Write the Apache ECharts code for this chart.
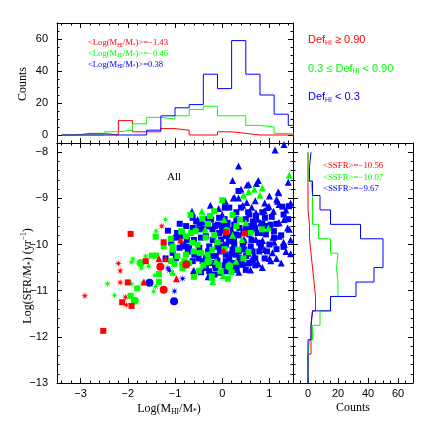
<!DOCTYPE html>
<html>
<head>
<meta charset="utf-8">
<script src="https://cdn.jsdelivr.net/npm/echarts@6/dist/echarts.min.js"></script>
<style>
  html, body { margin: 0; padding: 0; background: #fff; }
  #chart { width: 436px; height: 436px; }
</style>
</head>
<body>
<div id="chart"></div>
<script>
// tick labels
var xTickValues = [-3, -2, -1, 0, 1];
var yTickValues = [-13, -12, -11, -10, -9, -8];
var countTickValues = [0, 20, 40, 60];

// legend texts
var defLegend = ['{t|Def}{s|HI}{t| \u2265 0.90}', '{t|0.3 \u2264 Def}{s|HI}{t| < 0.90}', '{t|Def}{s|HI}{t| < 0.3}'];
var mhiMeans = ['\u22121.43', '\u22120.46', '0.38'];
var ssfrMeans = ['\u221210.56', '\u221210.07', '\u22129.67'];

// top histogram: log(MHI/M*) bins (lower edges), width 0.3
var hiBinLo = [-3.4, -3.1, -2.8, -2.5, -2.2, -1.9, -1.6, -1.3, -1.0, -0.7, -0.4, -0.1, 0.2, 0.5, 0.8, 1.1, 1.4];
var hiBinWidth = 0.3;
var hiRed   = [0, 1, 1, 0, 9, 2, 2, 4, 3, 0, 0, 2, 1, 0, 0, 0, 0];
var hiGreen = [0, 0, 0, 2, 3, 7, 11, 10, 12, 16, 18, 12, 12, 6, 5, 1, 0];
var hiBlue  = [0, 0, 0, 0, 0, 0, 3, 12, 17, 19, 38, 29, 59, 38, 25, 13, 6];

// right histogram: log(SSFR) bins (lower edges)
var ssfrBinLo = [-13, -12.6875, -12.375, -12.0625, -11.75, -11.4375, -11.125, -10.8125, -10.5, -10.1875, -9.875, -9.5625, -9.25, -8.9375, -8.625, -8.3125];
var ssfrBinWidth = 0.3125;
var ssfrRed   = [0, 0, 2, 2, 3, 5, 4, 3, 2, 1, 1, 0, 0, 0, 0, 0];
var ssfrGreen = [0, 0, 1, 3, 8, 15, 20, 19, 20, 15, 7, 3, 3, 2, 0, 0];
var ssfrBlue  = [0, 0, 0, 2, 3, 15, 32, 44, 50, 50, 35, 15, 8, 3, 1, 2];

// scatter: [log(MHI/M*), log(SFR/M*)]
var redSquare = [[-1.94, -9.77], [-2.52, -11.87], [-1.62, -10.36], [-1.24, -9.95], [-2.0, -10.82], [-2.12, -11.25], [-1.92, -11.33], [0.08, -9.73], [0.48, -9.76]];
var redStar = [[-1.28, -9.60], [-2.20, -10.41], [-2.16, -10.57], [-2.16, -10.82], [-2.91, -11.11], [-2.05, -11.14], [-2.03, -11.31]];
var redCircle = [[-1.31, -10.48], [-1.24, -10.98], [-0.76, -10.43]];
var redTriangle = [[-1.66, -10.81], [-1.34, -10.31], [-1.20, -10.31], [-0.88, -9.90], [-0.97, -10.74], [0.03, -10.13]];

var greenSquare = [[0.0, -9.04], [-0.17, -9.28], [-0.26, -9.38], [-0.67, -9.36], [-0.42, -9.44], [0.22, -9.36], [0.38, -9.46], [0.84, -9.67],
  [-0.17, -9.80], [-0.77, -9.82], [-0.66, -9.75], [-0.56, -9.71], [-0.87, -9.71], [-0.63, -9.96], [-0.52, -10.0],
  [-0.45, -10.18], [-0.31, -10.22], [-0.21, -10.11], [-0.77, -10.22], [-0.80, -10.36], [-0.84, -10.51], [-0.49, -10.57],
  [-0.08, -10.44], [0.15, -10.47], [-0.03, -10.58], [-0.22, -10.69], [0.12, -10.74], [0.56, -10.16], [0.34, -10.11],
  [-1.41, -9.83], [-1.09, -9.88], [-1.24, -10.04], [-1.49, -10.24], [-1.40, -10.24], [-1.34, -10.64], [-1.34, -10.81],
  [-1.80, -10.95], [-1.94, -11.11], [-1.01, -10.42], [-1.05, -10.04], [-0.85, -9.72], [-1.08, -10.36], [-1.05, -10.11],
  [-0.1, -9.95], [0.05, -10.1], [-0.6, -10.15], [0.3, -9.6], [-0.3, -9.55], [0.6, -9.75], [-0.7, -10.4], [0.1, -9.7],
  [-0.4, -10.45], [-0.95, -10.25], [-0.35, -9.85], [0.45, -10.3], [-0.6, -10.7], [0.2, -10.6]];
var greenTriangle = [[1.42, -8.50], [0.56, -8.85], [0.68, -8.80], [0.85, -8.77], [0.45, -8.93], [0.80, -8.93], [-0.43, -9.28], [0.04, -9.46],
  [0.50, -9.53], [0.98, -9.64], [-0.36, -9.67], [0.22, -9.80], [0.29, -10.36], [0.42, -9.89], [-0.13, -10.36], [-0.20, -10.80],
  [-0.22, -10.71], [0.02, -10.67], [-1.05, -10.60]];
var greenCircle = [[-1.73, -10.40], [-1.85, -11.22], [0.15, -10.47], [-0.29, -10.36], [-0.83, -10.43]];
var greenStar = [[-1.40, -9.71], [-1.89, -10.31], [-1.92, -10.38], [-1.56, -10.47], [-1.62, -10.25], [-1.71, -10.51], [-1.43, -10.67],
  [-2.43, -10.85], [-1.92, -10.85], [-1.45, -11.02], [-2.28, -11.10], [-1.68, -10.83], [-1.41, -10.91], [-1.20, -9.46]];

var blueTriangle = [[1.31, -7.83], [1.12, -7.95], [0.345, -8.30], [0.22, -8.61], [0.765, -8.61], [0.725, -8.68], [0.525, -8.71], [1.185, -8.86],
  [0.235, -8.99], [0.345, -8.99], [1.155, -9.02], [0.065, -9.06], [1.205, -9.13], [0.435, -9.15], [-0.075, -9.22], [0.625, -9.19],
  [0.955, -9.20], [1.085, -9.28], [0.715, -9.31], [-0.52, -9.46], [0.995, -9.57], [1.205, -9.53], [0.815, -9.53], [-0.485, -9.53],
  [-0.305, -9.60], [0.145, -9.64], [1.385, -9.64], [0.605, -9.67], [1.075, -9.84], [0.855, -9.91], [1.205, -9.82], [1.315, -10.0],
  [0.715, -9.89], [0.465, -9.89], [0.905, -10.11], [0.675, -10.22], [1.065, -10.18], [0.765, -10.42], [0.535, -10.40], [0.435, -10.36],
  [-0.61, -10.57], [0.29, -10.41], [0.75, -10.41], [1.03, -10.35], [-0.60, -10.56], [-0.64, -9.28], [-0.42, -9.5], [-0.85, -9.75],
  [1.2, -8.88], [1.17, -9.06], [0.99, -9.17], [0.89, -9.27], [1.31, -9.46], [1.42, -9.67], [1.2, -9.53], [0.56, -8.70], [0.26, -8.98],
  [0.52, -9.09], [1.1, -9.95], [1.35, -10.15], [1.45, -9.9], [1.0, -10.3], [0.6, -10.55], [1.25, -10.4], [0.35, -10.6], [-0.05, -10.6],
  [-0.3, -10.7], [0.1, -9.55], [1.45, -9.1], [1.4, -8.65], [0.0, -9.35], [-0.25, -9.15], [0.75, -9.45],
  [1.0, -8.95], [0.7, -9.05], [1.35, -9.25], [0.4, -8.8], [0.9, -9.1], [1.3, -9.95], [1.15, -10.3], [0.85, -10.5], [1.45, -10.2], [0.2, -10.45]];
var blueSquare = [[0.345, -8.84], [0.055, -9.20], [0.575, -9.35], [0.715, -9.38], [0.905, -9.42], [1.275, -9.18], [1.415, -9.17], [-0.065, -9.42],
  [-0.235, -9.46], [-0.625, -9.42], [-0.095, -9.57], [0.005, -9.60], [0.115, -9.53], [0.255, -9.57], [0.365, -9.64], [0.505, -9.64],
  [0.675, -9.60], [0.885, -9.60], [1.025, -9.57], [-0.765, -9.60], [-0.625, -9.64], [-0.485, -9.67], [-0.205, -9.67], [-0.87, -9.82],
  [-0.345, -9.82], [-0.025, -9.89], [0.145, -9.93], [0.255, -10.0], [0.435, -10.0], [0.605, -10.04], [0.785, -9.96], [-0.065, -9.75],
  [0.075, -9.82], [0.29, -9.78], [0.575, -9.78], [0.75, -9.75], [0.925, -9.78], [1.095, -9.71], [-0.80, -10.04], [-0.73, -10.15],
  [-0.59, -10.22], [-0.345, -10.29], [-0.135, -10.25], [0.075, -10.22], [0.29, -10.22], [0.505, -10.25], [0.645, -10.15], [-0.485, -10.07],
  [-0.275, -10.04], [0.005, -10.04], [0.22, -10.11], [0.465, -10.11], [0.785, -10.15], [-0.415, -10.36], [-0.235, -10.40], [0.075, -10.36],
  [0.22, -10.40], [0.435, -10.44], [0.575, -10.40], [0.365, -10.29], [0.645, -10.36], [-0.625, -10.36], [-0.345, -10.51], [-0.135, -10.51],
  [-0.165, -10.65], [-0.275, -10.58], [0.075, -10.58], [-0.955, -9.75], [-1.08, -9.96], [-0.98, -9.85], [-1.05, -10.18], [-0.905, -10.07],
  [-0.835, -10.0], [-0.98, -10.29], [-0.45, -9.85], [-0.2, -9.9], [0.0, -9.7], [0.18, -9.68], [0.35, -9.8], [0.45, -9.72], [0.62, -9.9],
  [0.7, -9.65], [0.95, -9.6], [1.15, -9.55], [1.25, -9.8], [1.0, -10.0], [0.82, -10.05], [0.55, -10.2], [0.35, -10.15], [0.15, -10.3],
  [-0.05, -10.15], [-0.25, -10.25], [-0.5, -10.3], [-0.7, -10.05], [-0.55, -9.5], [-0.3, -9.45], [0.3, -9.45], [0.5, -9.45], [0.85, -9.3],
  [1.05, -9.4], [0.4, -9.2], [0.15, -9.2], [-0.15, -9.6], [0.25, -10.55], [0.5, -10.55], [-0.45, -10.6], [0.7, -10.45], [0.9, -10.3],
  [1.15, -10.1], [1.3, -9.35], [-0.9, -9.55], [-0.75, -9.9], [-1.15, -9.7], [-1.2, -10.3], [0.05, -10.45], [-0.1, -10.35], [0.6, -9.6],
  [0.25, -9.9], [0.08, -10.0], [0.3, -9.3], [0.65, -9.5], [0.8, -9.75], [1.1, -9.85], [0.45, -9.95], [-0.1, -10.05], [0.2, -10.2],
  [0.4, -10.42], [-0.3, -10.15], [-0.6, -9.9], [0.95, -10.15], [1.3, -10.05], [0.55, -9.3], [0.05, -9.45], [-0.4, -9.65], [0.7, -10.3],
  [0.15, -9.8], [-0.15, -10.45], [0.85, -9.55], [1.4, -9.45]];
var blueCircle = [[-1.54, -10.83], [-1.02, -11.23], [0.29, -10.51]];
var blueStar = [[-1.15, -10.51], [-1.12, -10.56], [-1.01, -11.01], [-0.84, -10.74]];

var RED = '#ff0000', GREEN = '#00ff00', BLUE = '#0000ff';
var SERIF = 'Liberation Serif';
var SANS = 'Liberation Sans';
var STAR = 'path://M100 50 L63.86 55.74 L85.36 85.36 L55.74 63.86 L50 100 L44.26 63.86 L14.64 85.36 L36.14 55.74 L0 50 L36.14 44.26 L14.64 14.64 L44.26 36.14 L50 0 L55.74 36.14 L85.36 14.64 L63.86 44.26 Z';

function steps(a, b, step) {
    var out = [];
    var n = Math.round((b - a) / step);
    for (var i = 0; i <= n; i++) out.push(Math.round((a + i * step) * 1000) / 1000);
    return out;
}
function minus(v) {
    return String(v).replace('-', '\u2212');
}

var xAxes = [], yAxes = [];
function axis(grid, min, max, side, ticks, len, showLabel, showLine) {
    return {
        type: 'value', gridIndex: grid, min: min, max: max, position: side,
        axisLine: { show: showLine, onZero: false, lineStyle: { color: '#000', width: 1 } },
        axisTick: { show: true, inside: true, length: len, customValues: ticks, lineStyle: { color: '#000', width: 1 } },
        axisLabel: {
            show: showLabel, customValues: ticks, margin: side === 'left' ? 9 : 5,
            color: '#000', fontFamily: SANS, fontSize: 11, formatter: minus
        },
        splitLine: { show: false }
    };
}
function addAxes(list, grid, min, max, major, minor, sides, labelSide) {
    var first = list.length;
    sides.forEach(function (side) {
        list.push(axis(grid, min, max, side, major, 5, side === labelSide, true));
        list.push(axis(grid, min, max, side, minor, 2.5, false, false));
    });
    return first;
}

// grid 0: top histogram, grid 1: scatter, grid 2: right histogram
var topX = addAxes(xAxes, 0, -3.5, 1.5, xTickValues, steps(-3.4, 1.4, 0.2), ['bottom', 'top'], null);
var topY = addAxes(yAxes, 0, -5, 70, countTickValues, steps(-5, 70, 5), ['left', 'right'], 'left');
var mainX = addAxes(xAxes, 1, -3.5, 1.5, xTickValues, steps(-3.4, 1.4, 0.2), ['bottom', 'top'], 'bottom');
var mainY = addAxes(yAxes, 1, -13, -7.8, yTickValues, steps(-13, -7.8, 0.2), ['left', 'right'], 'left');
var sideX = addAxes(xAxes, 2, -10, 70, countTickValues, steps(-10, 70, 5), ['bottom', 'top'], 'bottom');
var sideY = addAxes(yAxes, 2, -13, -7.8, yTickValues, steps(-13, -7.8, 0.2), ['left', 'right'], null);

function histPoints(lo, w, counts, horizontal) {
    var pts = [];
    for (var i = 0; i < lo.length; i++) {
        if (horizontal) {
            pts.push([counts[i], lo[i]]);
            pts.push([counts[i], lo[i] + w]);
        } else {
            pts.push([lo[i], counts[i]]);
            pts.push([lo[i] + w, counts[i]]);
        }
    }
    return pts;
}
function hist(data, color, xi, yi) {
    return {
        type: 'line', xAxisIndex: xi, yAxisIndex: yi, data: data,
        symbol: 'none', showSymbol: false, clip: true, silent: true,
        lineStyle: { color: color, width: 1 }, z: 2
    };
}
function scatter(data, color, symbol, size) {
    return {
        type: 'scatter', xAxisIndex: mainX, yAxisIndex: mainY, data: data,
        symbol: symbol, symbolSize: size, silent: true,
        itemStyle: { color: color, opacity: 1 }, z: 3
    };
}

function rich(size, color, family) {
    return {
        t: { fontSize: size, fontFamily: family, fill: color },
        s: { fontSize: size * 0.62, fontFamily: family, fill: color, padding: [size * 0.55, 0, 0, 0] },
        u: { fontSize: size * 0.62, fontFamily: family, fill: color, padding: [0, 0, size * 0.6, 0] }
    };
}
function text(x, y, str, size, color, family, align, rotation) {
    return {
        type: 'text', x: x, y: y, rotation: rotation || 0, silent: true,
        style: {
            text: str, fill: color, fontSize: size, fontFamily: family,
            align: align, verticalAlign: 'middle', rich: rich(size, color, family)
        }
    };
}

var colors = [RED, GREEN, BLUE];
var graphics = [
    text(167, 177, '{t|All}', 11, '#000', SERIF, 'left'),
    text(169, 409, '{t|Log(M}{s|HI}{t|/M}{s|*}{t|)}', 12, '#000', SERIF, 'center'),
    text(353, 408, '{t|Counts}', 12, '#000', SERIF, 'center'),
    text(28, 276, '{t|Log(SFR/M}{s|*}{t|) (yr}{u|\u22121}{t|)}', 12, '#000', SERIF, 'center', Math.PI / 2),
    text(23, 84, '{t|Counts}', 12, '#000', SERIF, 'center', Math.PI / 2)
];
for (var i = 0; i < 3; i++) {
    graphics.push(text(88, 43 + i * 10.7, '{t|<Log(M}{s|HI}{t|/M}{s|*}{t|)>=' + mhiMeans[i] + '}', 8.6, colors[i], SERIF, 'left'));
    graphics.push(text(308, 40 + i * 28.5, defLegend[i], 11, colors[i], SANS, 'left'));
    graphics.push(text(323, 166 + i * 11.5, '{t|<SSFR>=' + ssfrMeans[i] + '}', 8.8, colors[i], SERIF, 'left'));
}

var chart = echarts.init(document.getElementById('chart'));
chart.setOption({
    backgroundColor: '#fff',
    animation: false,
    grid: [
        { left: 57, top: 23, width: 236, height: 120 },
        { left: 57, top: 143, width: 236, height: 240 },
        { left: 293, top: 143, width: 120, height: 240 }
    ],
    xAxis: xAxes,
    yAxis: yAxes,
    graphic: graphics,
    series: [
        hist(histPoints(hiBinLo, hiBinWidth, hiRed, false), RED, topX, topY),
        hist(histPoints(hiBinLo, hiBinWidth, hiGreen, false), GREEN, topX, topY),
        hist(histPoints(hiBinLo, hiBinWidth, hiBlue, false), BLUE, topX, topY),
        hist(histPoints(ssfrBinLo, ssfrBinWidth, ssfrRed, true), RED, sideX, sideY),
        hist(histPoints(ssfrBinLo, ssfrBinWidth, ssfrGreen, true), GREEN, sideX, sideY),
        hist(histPoints(ssfrBinLo, ssfrBinWidth, ssfrBlue, true), BLUE, sideX, sideY),
        scatter(blueSquare, BLUE, 'rect', 6),
        scatter(blueTriangle, BLUE, 'triangle', 7),
        scatter(blueCircle, BLUE, 'circle', 8),
        scatter(blueStar, BLUE, STAR, 8),
        scatter(greenSquare, GREEN, 'rect', 6),
        scatter(greenTriangle, GREEN, 'triangle', 7),
        scatter(greenCircle, GREEN, 'circle', 8),
        scatter(greenStar, GREEN, STAR, 8),
        scatter(redSquare, RED, 'rect', 6),
        scatter(redTriangle, RED, 'triangle', 7),
        scatter(redCircle, RED, 'circle', 8),
        scatter(redStar, RED, STAR, 8)
    ]
});
</script>
</body>
</html>
